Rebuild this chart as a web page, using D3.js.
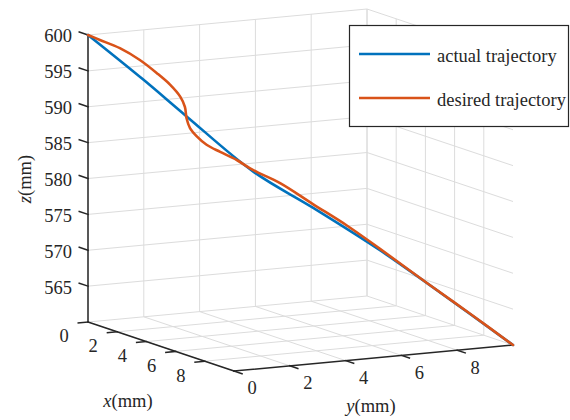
<!DOCTYPE html>
<html>
<head>
<meta charset="utf-8">
<script src="https://cdn.jsdelivr.net/npm/d3@7"></script>
<style>
  body { margin: 0; background: #fff; }
  svg { display: block; }
</style>
</head>
<body>
<script>
// values (x, y in mm, z in mm)
const actualX = [0, 1.3, 2.32, 3.89, 5.3, 6.87, 8.3, 10];
const actualY = [0, 1.3, 2.32, 3.89, 5.3, 6.87, 8.3, 10];
const actualZ = [600, 594.2, 589.4, 582.2, 577.6, 572.2, 566.7, 560];

const desiredX = [0, 0.28, 0.75, 1.22, 1.62, 1.93, 2.17, 2.28, 2.32, 2.4, 2.56, 2.79, 3.11, 3.5, 3.89, 4.52, 5.3, 6.09, 6.87, 8.0, 9.0, 10];
const desiredY = [0, 0.28, 0.75, 1.22, 1.62, 1.93, 2.17, 2.28, 2.32, 2.4, 2.56, 2.79, 3.11, 3.5, 3.89, 4.52, 5.3, 6.09, 6.87, 8.0, 9.0, 10];
const desiredZ = [600, 599.4, 598.4, 596.9, 595.2, 593.7, 592.1, 590.7, 589.1, 587.8, 586.7, 585.6, 584.7, 583.7, 582.4, 580.8, 578.1, 575.4, 572.4, 567.9, 564.0, 560];

const xTicks = [0, 2, 4, 6, 8];
const yTicks = [0, 2, 4, 6, 8];
const zTicks = [565, 570, 575, 580, 585, 590, 595, 600];

const seriesNames = ["actual trajectory", "desired trajectory"];
const seriesColors = ["#0072BD", "#D95319"];

const width = 570;
const height = 420;

const xLim = [0, 10];
const yLim = [0, 10];
const zLim = [560, 600];

// oblique (orthographic) view, split into screen components per axis
const x0 = 88;
const y0 = 322;
const xToSx = d3.scaleLinear().domain(xLim).range([0, 146]);
const xToSy = d3.scaleLinear().domain(xLim).range([0, 49]);
const yToSx = d3.scaleLinear().domain(yLim).range([0, 279]);
const yToSy = d3.scaleLinear().domain(yLim).range([0, -26]);
const zToSy = d3.scaleLinear().domain(zLim).range([0, -287]);

const project = (x, y, z) => [
  x0 + xToSx(x) + yToSx(y),
  y0 + xToSy(x) + yToSy(y) + zToSy(z),
];

const fontFamily = "'Liberation Serif', 'Times New Roman', serif";

const svg = d3
  .select("body")
  .append("svg")
  .attr("width", width)
  .attr("height", height)
  .attr("font-family", fontFamily);

const seg = (a, b) => ({ a: project(...a), b: project(...b) });

// grid on the two back walls and the floor
const gridLines = [];
xTicks.forEach((x) => {
  gridLines.push(seg([x, yLim[0], zLim[0]], [x, yLim[1], zLim[0]]));
  gridLines.push(seg([x, yLim[1], zLim[0]], [x, yLim[1], zLim[1]]));
});
yTicks.concat([yLim[1]]).forEach((y) => {
  gridLines.push(seg([xLim[0], y, zLim[0]], [xLim[1], y, zLim[0]]));
  gridLines.push(seg([xLim[0], y, zLim[0]], [xLim[0], y, zLim[1]]));
});
zTicks.forEach((z) => {
  gridLines.push(seg([xLim[0], yLim[0], z], [xLim[0], yLim[1], z]));
  gridLines.push(seg([xLim[0], yLim[1], z], [xLim[1], yLim[1], z]));
});

svg
  .append("g")
  .attr("class", "grid")
  .selectAll("line")
  .data(gridLines)
  .join("line")
  .attr("x1", (d) => d.a[0])
  .attr("y1", (d) => d.a[1])
  .attr("x2", (d) => d.b[0])
  .attr("y2", (d) => d.b[1])
  .attr("stroke", "#dcdcdc")
  .attr("stroke-width", 1);

// axis lines
const axisColor = "#262626";
const axisGroup = svg.append("g").attr("class", "axes");
const axisLines = [
  seg([xLim[0], yLim[0], zLim[0]], [xLim[1], yLim[0], zLim[0]]),
  seg([xLim[1], yLim[0], zLim[0]], [xLim[1], yLim[1], zLim[0]]),
  seg([xLim[0], yLim[0], zLim[0]], [xLim[0], yLim[0], zLim[1]]),
];
// ticks: x ticks point toward -y, y ticks toward +x, z ticks toward -x
xTicks.forEach((x) => axisLines.push(seg([x, 0, zLim[0]], [x, -0.35, zLim[0]])));
yTicks.forEach((y) => axisLines.push(seg([xLim[1], y, zLim[0]], [xLim[1] + 0.55, y, zLim[0]])));
zTicks.forEach((z) => axisLines.push(seg([0, 0, z], [-0.6, 0, z])));

axisGroup
  .selectAll("line")
  .data(axisLines)
  .join("line")
  .attr("x1", (d) => d.a[0])
  .attr("y1", (d) => d.a[1])
  .attr("x2", (d) => d.b[0])
  .attr("y2", (d) => d.b[1])
  .attr("stroke", axisColor)
  .attr("stroke-width", 1.5)
  .attr("stroke-linecap", "square");

const fontSize = 18.5;

axisGroup
  .append("g")
  .selectAll("text")
  .data(xTicks)
  .join("text")
  .attr("x", (d) => project(d, 0, zLim[0])[0] - 24)
  .attr("y", (d) => project(d, 0, zLim[0])[1] + 14)
  .attr("text-anchor", "middle")
  .attr("dy", "0.35em")
  .attr("font-size", fontSize)
  .attr("fill", axisColor)
  .text((d) => d);

axisGroup
  .append("g")
  .selectAll("text")
  .data(yTicks)
  .join("text")
  .attr("x", (d) => project(xLim[1], d, zLim[0])[0] + 18)
  .attr("y", (d) => project(xLim[1], d, zLim[0])[1] + 17)
  .attr("text-anchor", "middle")
  .attr("dy", "0.35em")
  .attr("font-size", fontSize)
  .attr("fill", axisColor)
  .text((d) => d);

axisGroup
  .append("g")
  .selectAll("text")
  .data(zTicks)
  .join("text")
  .attr("x", (d) => project(0, 0, d)[0] - 16)
  .attr("y", (d) => project(0, 0, d)[1] + 1)
  .attr("text-anchor", "end")
  .attr("dy", "0.35em")
  .attr("font-size", fontSize)
  .attr("fill", axisColor)
  .text((d) => d);

// axis titles
const axisTitle = (g, letter) => {
  g.append("tspan").attr("font-style", "italic").text(letter);
  g.append("tspan").text("(mm)");
};

svg
  .append("text")
  .attr("x", 128)
  .attr("y", 407)
  .attr("text-anchor", "middle")
  .attr("font-size", fontSize)
  .attr("fill", axisColor)
  .call(axisTitle, "x");

svg
  .append("text")
  .attr("x", 371)
  .attr("y", 412)
  .attr("text-anchor", "middle")
  .attr("font-size", fontSize)
  .attr("fill", axisColor)
  .call(axisTitle, "y");

svg
  .append("text")
  .attr("transform", "translate(25 179) rotate(-90)")
  .attr("text-anchor", "middle")
  .attr("dy", "0.35em")
  .attr("font-size", fontSize)
  .attr("fill", axisColor)
  .call(axisTitle, "z");

// trajectories
const toPoints = (xs, ys, zs) => xs.map((x, i) => project(x, ys[i], zs[i]));
const series = [
  toPoints(actualX, actualY, actualZ),
  toPoints(desiredX, desiredY, desiredZ),
];

const line = d3.line().curve(d3.curveCatmullRom.alpha(0.5));

svg
  .append("g")
  .attr("class", "data")
  .selectAll("path")
  .data(series)
  .join("path")
  .attr("d", line)
  .attr("fill", "none")
  .attr("stroke", (d, i) => seriesColors[i])
  .attr("stroke-width", 2.6)
  .attr("stroke-linejoin", "round")
  .attr("stroke-linecap", "round");

// legend
const legend = svg.append("g").attr("class", "legend");
legend
  .append("rect")
  .attr("x", 349.5)
  .attr("y", 25.5)
  .attr("width", 219)
  .attr("height", 101)
  .attr("fill", "#fff")
  .attr("stroke", axisColor)
  .attr("stroke-width", 1.2);

const items = legend
  .selectAll("g")
  .data(seriesNames)
  .join("g")
  .attr("transform", (d, i) => `translate(0 ${54 + i * 44})`);

items
  .append("line")
  .attr("x1", 359)
  .attr("x2", 430)
  .attr("stroke", (d, i) => seriesColors[i])
  .attr("stroke-width", 2.6);

items
  .append("text")
  .attr("x", 437)
  .attr("y", 8)
  .attr("font-size", fontSize)
  .attr("fill", axisColor)
  .text((d) => d);
</script>
</body>
</html>
